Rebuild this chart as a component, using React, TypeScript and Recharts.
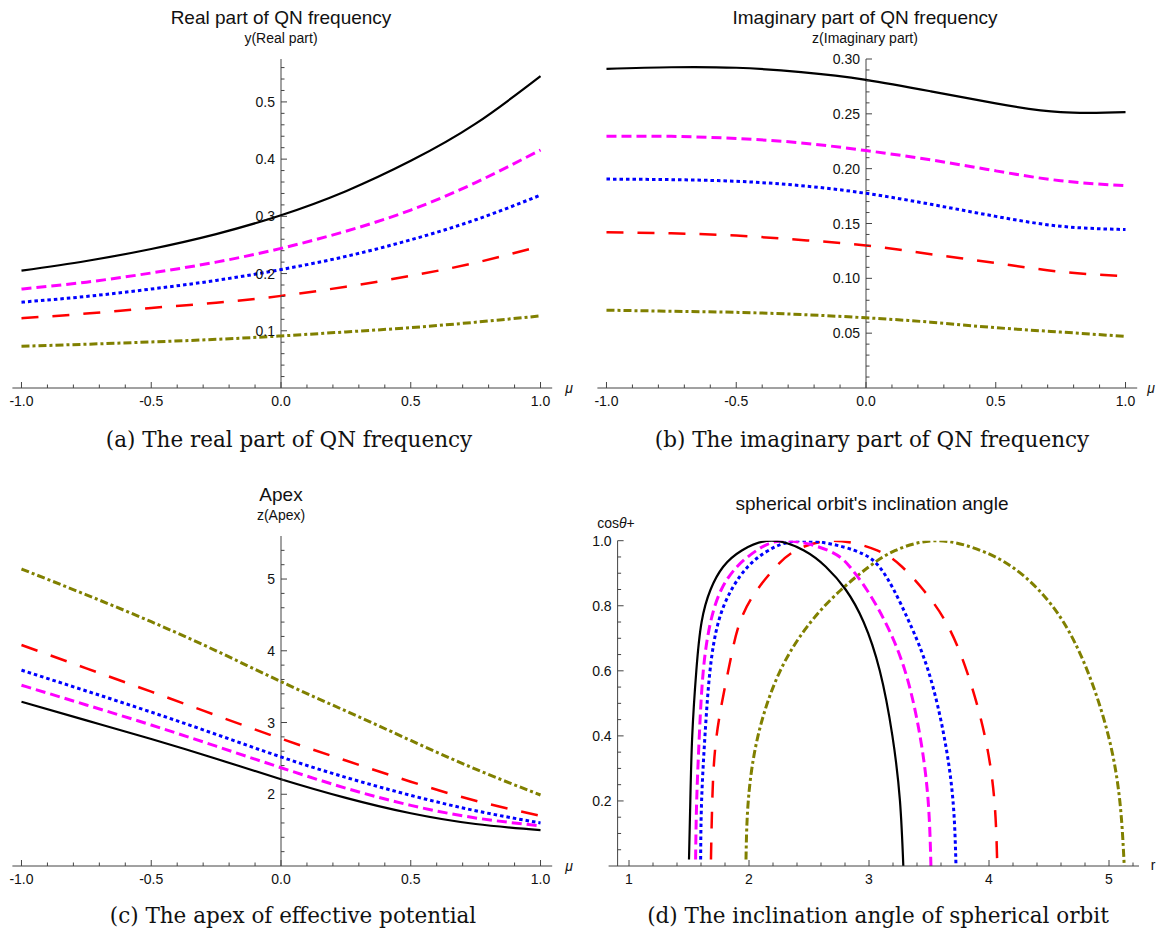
import React from "react";
import { LineChart, Line, XAxis, YAxis, ReferenceLine } from "recharts";

const PAGE_W = 1161;
const PAGE_H = 939;

const SANS = "'Liberation Sans', Arial, sans-serif";
const SERIF = "'DejaVu Serif', serif";
const AXIS = "#444";
const X_AXIS_H = 20;
const Y_AXIS_W = 5;

// shared abscissa of panels (a)-(c)
const mu = [-1, -0.75, -0.5, -0.25, 0, 0.25, 0.5, 0.75, 1];

// (a) real part of QN frequency
const reBlack = [0.205, 0.222, 0.243, 0.269, 0.302, 0.344, 0.397, 0.462, 0.545];
const reMagenta = [0.173, 0.185, 0.201, 0.22, 0.244, 0.274, 0.311, 0.359, 0.416];
const reBlue = [0.15, 0.16, 0.173, 0.188, 0.207, 0.23, 0.259, 0.294, 0.337];
const reRed = [0.122, 0.13, 0.14, 0.149, 0.161, 0.177, 0.196, 0.219, 0.248];
const reOlive = [0.073, 0.0765, 0.0805, 0.085, 0.091, 0.098, 0.1055, 0.115, 0.126];

// (b) imaginary part of QN frequency
const imBlack = [0.291, 0.2925, 0.292, 0.288, 0.281, 0.2705, 0.2595, 0.2515, 0.2515];
const imMagenta = [0.2295, 0.2295, 0.2275, 0.2235, 0.2165, 0.208, 0.198, 0.189, 0.1845];
const imBlue = [0.1905, 0.19, 0.1885, 0.1845, 0.1775, 0.1675, 0.1565, 0.1475, 0.1445];
const imRed = [0.142, 0.141, 0.139, 0.135, 0.13, 0.122, 0.114, 0.106, 0.102];
const imOlive = [0.071, 0.07, 0.069, 0.067, 0.064, 0.06, 0.055, 0.051, 0.047];

// (c) apex of effective potential
const apexBlack = [3.29, 3.03, 2.77, 2.495, 2.21, 1.95, 1.735, 1.585, 1.5];
const apexMagenta = [3.52, 3.245, 2.965, 2.67, 2.37, 2.085, 1.845, 1.67, 1.56];
const apexBlue = [3.73, 3.44, 3.145, 2.835, 2.52, 2.235, 1.985, 1.77, 1.6];
const apexRed = [4.08, 3.755, 3.43, 3.1, 2.775, 2.47, 2.175, 1.91, 1.7];
const apexOlive = [5.14, 4.78, 4.405, 4.0, 3.57, 3.16, 2.75, 2.35, 1.99];

// (d) inclination angle: cos(theta+) levels walked left foot -> top -> right foot
const cosLevels = [0.02, 0.2, 0.4, 0.6, 0.75, 0.85, 0.92, 0.97, 1.0, 0.97, 0.92, 0.85, 0.75, 0.6, 0.4, 0.2, 0];
const rBlack = [1.5, 1.511, 1.527, 1.561, 1.605, 1.68, 1.785, 1.94, 2.189, 2.458, 2.64, 2.805, 2.955, 3.09, 3.195, 3.258, 3.286];
const rMagenta = [1.555, 1.564, 1.586, 1.619, 1.68, 1.77, 1.9, 2.063, 2.3, 2.66, 2.84, 2.98, 3.135, 3.3, 3.425, 3.493, 3.516];
const rBlue = [1.597, 1.605, 1.633, 1.675, 1.745, 1.855, 1.99, 2.162, 2.452, 2.88, 3.085, 3.205, 3.335, 3.494, 3.625, 3.7, 3.725];
const rRed = [1.683, 1.694, 1.73, 1.827, 1.925, 2.07, 2.225, 2.39, 2.702, 3.068, 3.275, 3.45, 3.64, 3.814, 3.965, 4.045, 4.069];
const rOlive = [1.975, 1.994, 2.075, 2.26, 2.515, 2.77, 3.0, 3.22, 3.564, 3.93, 4.19, 4.41, 4.62, 4.82, 4.995, 5.09, 5.127];

const STYLES: Record<string, { stroke: string; width: number; dash?: string }> = {
  black: { stroke: "#000000", width: 2.2 },
  magenta: { stroke: "#ff00ff", width: 3, dash: "10 5" },
  blue: { stroke: "#0000ff", width: 3, dash: "3.5 3" },
  red: { stroke: "#ff0000", width: 2.5, dash: "17 14" },
  olive: { stroke: "#808000", width: 3, dash: "8 3 3 3" },
};
const ORDER = ["olive", "red", "blue", "magenta", "black"];

const steps = (from: number, to: number, step: number) =>
  Array.from({ length: Math.round((to - from) / step) + 1 }, (_, i) => +(from + i * step).toFixed(4));
const isMult = (v: number, m: number) => Math.abs(v / m - Math.round(v / m)) < 1e-6;

const muRows = (s: Record<string, number[]>) =>
  mu.map((m, i) => {
    const row: Record<string, number> = { mu: m };
    Object.keys(s).forEach((k) => (row[k] = s[k][i]));
    return row;
  });
const orbit = (rs: number[]) => rs.map((r, i) => ({ r, c: cosLevels[i] }));

interface PanelProps {
  x0: number;
  x1: number;
  yTop: number;
  yBottom: number;
  xKey: string;
  xDomain: [number, number];
  yDomain: [number, number];
  yAxisAt: number;
  yAxisPx: number;
  xTicks: number[];
  xMajor: number;
  xFmt: (v: number) => string;
  yTicks: number[];
  yMajor: number;
  yFmt: (v: number) => string;
  data?: Record<string, number>[];
  series: { key: string; data?: { r: number; c: number }[] }[];
}

function Panel(p: PanelProps) {
  const xTick = (props: any) => {
    const v = props.payload.value;
    const major = isMult(v, p.xMajor);
    return (
      <g>
        <line x1={props.x} x2={props.x} y1={p.yBottom} y2={p.yBottom - (major ? 6 : 3.5)} stroke={AXIS} />
        {major && (
          <text x={props.x} y={p.yBottom + 18} textAnchor="middle" fontSize={14} fontFamily={SANS} fill="#111">
            {p.xFmt(v)}
          </text>
        )}
      </g>
    );
  };
  const yTick = (props: any) => {
    const v = props.payload.value;
    const major = isMult(v, p.yMajor);
    return (
      <g>
        <line x1={p.yAxisPx} x2={p.yAxisPx + (major ? 6 : 3.5)} y1={props.y} y2={props.y} stroke={AXIS} />
        {major && (
          <text x={p.yAxisPx - 6} y={props.y + 5} textAnchor="end" fontSize={14} fontFamily={SANS} fill="#111">
            {p.yFmt(v)}
          </text>
        )}
      </g>
    );
  };
  return (
    <div style={{ position: "absolute", left: 0, top: 0 }}>
      <LineChart
        width={PAGE_W}
        height={PAGE_H}
        data={p.data}
        margin={{
          top: p.yTop,
          bottom: PAGE_H - p.yBottom - X_AXIS_H,
          left: p.x0 - Y_AXIS_W,
          right: PAGE_W - p.x1,
        }}
      >
        <XAxis
          type="number"
          dataKey={p.xKey}
          domain={p.xDomain}
          allowDataOverflow
          ticks={p.xTicks}
          interval={0}
          height={X_AXIS_H}
          tickLine={false}
          axisLine={{ stroke: AXIS }}
          tick={xTick}
        />
        <YAxis
          type="number"
          domain={p.yDomain}
          allowDataOverflow
          ticks={p.yTicks}
          interval={0}
          width={Y_AXIS_W}
          tickLine={false}
          axisLine={false}
          tick={yTick}
        />
        <ReferenceLine x={p.yAxisAt} stroke={AXIS} />
        {p.series.map((s) => {
          const st = STYLES[s.key];
          return (
            <Line
              key={s.key}
              data={s.data}
              type="natural"
              dataKey={s.data ? "c" : s.key}
              stroke={st.stroke}
              strokeWidth={st.width}
              strokeDasharray={st.dash}
              dot={false}
              activeDot={false}
              isAnimationActive={false}
            />
          );
        })}
      </LineChart>
    </div>
  );
}

const Label = ({ x, y, size, children, font = SANS, italic = false }: any) => (
  <div
    style={{
      position: "absolute",
      left: x,
      top: y,
      transform: "translate(-50%, -50%)",
      whiteSpace: "nowrap",
      fontFamily: font,
      fontSize: size,
      fontStyle: italic ? "italic" : "normal",
      color: "#111",
      lineHeight: 1,
    }}
  >
    {children}
  </div>
);

const muTicks = steps(-1, 1, 0.1);
const muFmt = (v: number) => v.toFixed(1);

export default function App() {
  const series5 = ORDER.map((k) => ({ key: k }));
  const orbitSeries = [
    { key: "olive", data: orbit(rOlive) },
    { key: "red", data: orbit(rRed) },
    { key: "blue", data: orbit(rBlue) },
    { key: "magenta", data: orbit(rMagenta) },
    { key: "black", data: orbit(rBlack) },
  ];
  return (
    <div style={{ position: "absolute", left: 0, top: 0, width: PAGE_W, height: PAGE_H, background: "#fff" }}>
      {/* (a) */}
      <Panel
        x0={12.4}
        x1={552.2}
        yTop={59}
        yBottom={388}
        xKey="mu"
        xDomain={[-1.035, 1.045]}
        yDomain={[0, 0.575]}
        yAxisAt={0}
        yAxisPx={281}
        xTicks={muTicks}
        xMajor={0.5}
        xFmt={muFmt}
        yTicks={steps(0.02, 0.56, 0.02)}
        yMajor={0.1}
        yFmt={(v) => v.toFixed(1)}
        data={muRows({ black: reBlack, magenta: reMagenta, blue: reBlue, red: reRed, olive: reOlive })}
        series={series5}
      />
      <Label x={281} y={17} size={19}>Real part of QN frequency</Label>
      <Label x={281} y={38} size={14}>y(Real part)</Label>
      <Label x={569} y={388} size={14} italic>μ</Label>
      <Label x={289} y={440} size={21.5} font={SERIF}>(a) The real part of QN frequency</Label>

      {/* (b) */}
      <Panel
        x0={597.4}
        x1={1137.2}
        yTop={59}
        yBottom={388}
        xKey="mu"
        xDomain={[-1.035, 1.045]}
        yDomain={[0, 0.3]}
        yAxisAt={0}
        yAxisPx={866}
        xTicks={muTicks}
        xMajor={0.5}
        xFmt={muFmt}
        yTicks={steps(0.01, 0.3, 0.01)}
        yMajor={0.05}
        yFmt={(v) => v.toFixed(2)}
        data={muRows({ black: imBlack, magenta: imMagenta, blue: imBlue, red: imRed, olive: imOlive })}
        series={series5}
      />
      <Label x={865} y={17} size={19}>Imaginary part of QN frequency</Label>
      <Label x={865} y={38} size={14}>z(Imaginary part)</Label>
      <Label x={1151} y={388} size={14} italic>μ</Label>
      <Label x={872} y={440} size={21.5} font={SERIF}>(b) The imaginary part of QN frequency</Label>

      {/* (c) */}
      <Panel
        x0={12.4}
        x1={552.2}
        yTop={536}
        yBottom={866}
        xKey="mu"
        xDomain={[-1.035, 1.045]}
        yDomain={[1, 5.6]}
        yAxisAt={0}
        yAxisPx={281}
        xTicks={muTicks}
        xMajor={0.5}
        xFmt={muFmt}
        yTicks={steps(1.2, 5.4, 0.2)}
        yMajor={1}
        yFmt={(v) => v.toFixed(0)}
        data={muRows({ black: apexBlack, magenta: apexMagenta, blue: apexBlue, red: apexRed, olive: apexOlive })}
        series={series5}
      />
      <Label x={281} y={494} size={19}>Apex</Label>
      <Label x={281} y={515} size={14}>z(Apex)</Label>
      <Label x={569} y={866} size={14} italic>μ</Label>
      <Label x={293} y={916} size={21.5} font={SERIF}>(c) The apex of effective potential</Label>

      {/* (d) */}
      <Panel
        x0={608.6}
        x1={1139}
        yTop={540.7}
        yBottom={866}
        xKey="r"
        xDomain={[0.83, 5.25]}
        yDomain={[0, 1]}
        yAxisAt={0.905}
        yAxisPx={617.6}
        xTicks={steps(1, 5.2, 0.2)}
        xMajor={1}
        xFmt={(v) => v.toFixed(0)}
        yTicks={steps(0.05, 1, 0.05)}
        yMajor={0.2}
        yFmt={(v) => v.toFixed(1)}
        series={orbitSeries}
      />
      <Label x={872} y={503} size={19}>spherical orbit's inclination angle</Label>
      <Label x={616} y={523} size={14}>
        cos<i>θ</i>+
      </Label>
      <Label x={1153} y={865} size={14}>r</Label>
      <Label x={878} y={916} size={21.5} font={SERIF}>(d) The inclination angle of spherical orbit</Label>
    </div>
  );
}
